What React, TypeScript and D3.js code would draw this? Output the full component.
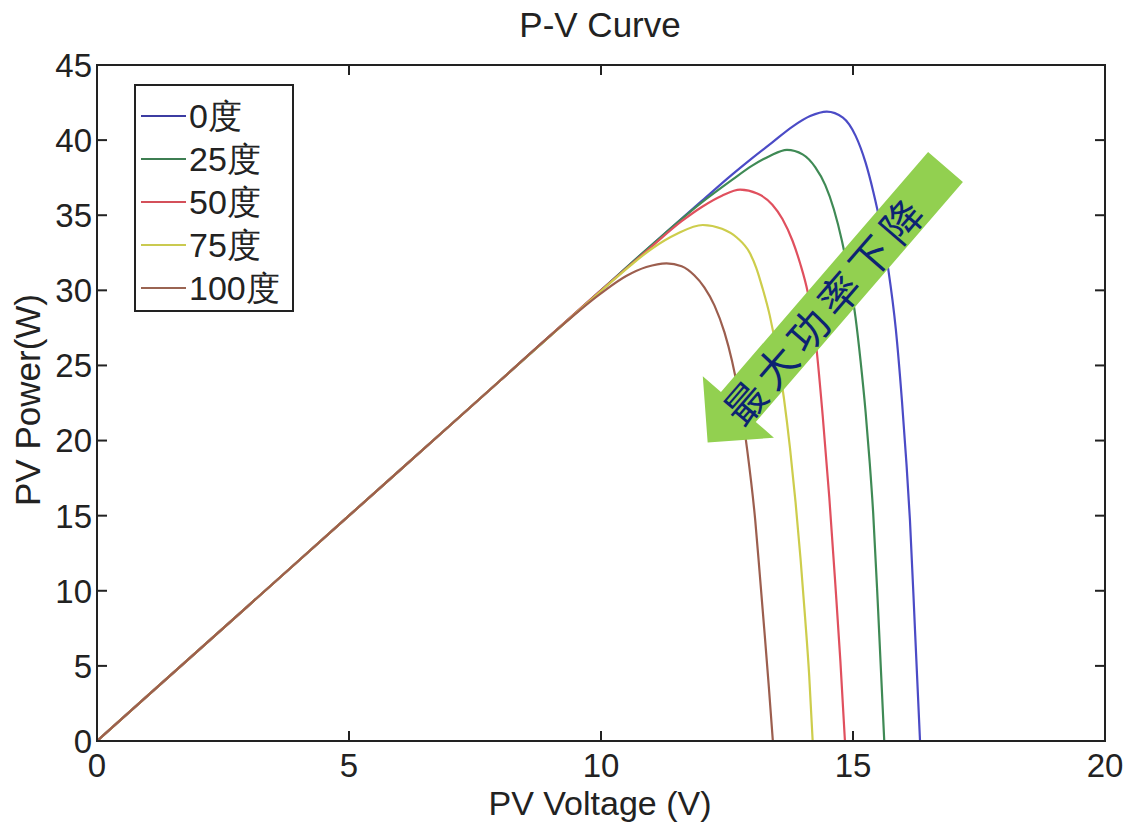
import React from "react";
import * as d3 from "d3";

// P-V characteristic of a PV module at several cell temperatures
const seriesNames = ["0度", "25度", "50度", "75度", "100度"];
const seriesColors = ["#4b4bc6", "#3f8a55", "#e0505e", "#cdcd4c", "#9c5e4e"];
const legendColors = ["#3c3ca2", "#3e7e52", "#d4505a", "#caca50", "#9a6452"];

const voltage0 = [0, 2, 4, 6, 8, 10, 11, 12, 12.6, 13.0, 13.4, 13.8, 14.15, 14.48, 14.8, 15.05, 15.25, 15.4, 15.55, 15.7, 15.85, 15.97, 16.06, 16.13, 16.23, 16.33];
const power0 = [0, 6.0, 12.0, 18.0, 24.0, 30.0, 33.0, 35.95, 37.7, 38.8, 39.85, 40.9, 41.6, 41.9, 41.5, 40.3, 38.5, 36.6, 34.3, 31.4, 27.4, 22.7, 18.5, 14.7, 7.4, 0];

const voltage25 = [0, 2, 4, 6, 8, 10, 11, 12, 12.6, 13.0, 13.35, 13.69, 14.0, 14.25, 14.45, 14.62, 14.78, 14.92, 15.05, 15.15, 15.25, 15.33, 15.4, 15.5, 15.62];
const power25 = [0, 6.0, 12.0, 18.0, 24.0, 30.0, 33.0, 35.85, 37.35, 38.3, 38.95, 39.35, 39.05, 38.2, 37.0, 35.4, 33.3, 30.9, 28.2, 25.3, 21.9, 18.6, 15.2, 8.6, 0];

const voltage50 = [0, 2, 4, 6, 8, 10, 11, 11.6, 12.0, 12.4, 12.76, 13.1, 13.4, 13.6, 13.8, 13.95, 14.1, 14.25, 14.4, 14.53, 14.65, 14.75, 14.84];
const power50 = [0, 6.0, 12.0, 18.0, 24.0, 30.0, 32.9, 34.6, 35.55, 36.3, 36.7, 36.45, 35.7, 34.75, 33.3, 31.8, 29.9, 26.9, 21.6, 16.2, 10.4, 5.3, 0];

const voltage75 = [0, 2, 4, 6, 8, 10, 10.6, 11.0, 11.5, 12.02, 12.4, 12.7, 12.95, 13.08, 13.2, 13.35, 13.5, 13.63, 13.75, 13.86, 13.96, 14.05, 14.13, 14.2];
const power75 = [0, 6.0, 12.0, 18.0, 24.0, 29.95, 31.7, 32.75, 33.75, 34.35, 34.1, 33.5, 32.5, 31.5, 30.2, 28.3, 25.7, 22.8, 19.5, 15.9, 12.1, 8.2, 4.4, 0];

const voltage100 = [0, 2, 4, 6, 8, 9, 10, 10.5, 10.9, 11.3, 11.6, 11.85, 12.05, 12.25, 12.45, 12.6, 12.75, 12.9, 13.06, 13.15, 13.25, 13.33, 13.41];
const power100 = [0, 6.0, 12.0, 18.0, 24.0, 27.0, 29.8, 30.95, 31.55, 31.8, 31.6, 31.0, 30.2, 29.0, 27.2, 25.3, 22.8, 19.4, 14.7, 11.1, 7.0, 3.6, 0];

const voltageSeries = [voltage0, voltage25, voltage50, voltage75, voltage100];
const powerSeries = [power0, power25, power50, power75, power100];

const xTicks = [0, 5, 10, 15, 20];
const yTicks = [0, 5, 10, 15, 20, 25, 30, 35, 40, 45];

const titleText = "P-V Curve";
const xLabel = "PV Voltage (V)";
const yLabel = "PV Power(W)";
const arrowText = "最大功率下降";

const W = 1129;
const H = 825;
const left = 97;
const right = 1105;
const top = 65;
const bottom = 741;

export default function App() {
  const x = d3.scaleLinear().domain([0, 20]).range([left, right]);
  const y = d3.scaleLinear().domain([0, 45]).range([bottom, top]);
  const line = d3
    .line<[number, number]>()
    .x((d) => x(d[0]))
    .y((d) => y(d[1]))
    .curve(d3.curveMonotoneX);

  const font = "'Liberation Sans', Arial, Helvetica, sans-serif";
  const axisColor = "#222";
  const tickLen = 10;

  // arrow geometry, in its own frame: tail centre at origin, pointing along +x
  const arrowTail = [945.5, 167];
  const arrowAngle = 130.8;
  const arrowLen = 364;
  const headLen = 47;
  const bodyHalf = 23;
  const headHalf = 47;
  const arrowPts = [
    [0, -bodyHalf],
    [arrowLen - headLen, -bodyHalf],
    [arrowLen - headLen, -headHalf],
    [arrowLen, 0],
    [arrowLen - headLen, headHalf],
    [arrowLen - headLen, bodyHalf],
    [0, bodyHalf],
  ];

  const legendX = 135;
  const legendY = 85;
  const legendW = 158;
  const legendH = 226;
  const rowY0 = 116;
  const rowStep = 43;

  return (
    <div style={{ position: "absolute", left: 0, top: 0 }}>
      <svg width={W} height={H} style={{ display: "block", background: "#fff" }}>
        <rect x={0} y={0} width={W} height={H} fill="#fff" />
        <defs>
          <clipPath id="plotClip">
            <rect x={left} y={top - 2} width={right - left} height={bottom - top + 2} />
          </clipPath>
        </defs>

        {/* title */}
        <text x={600} y={37} textAnchor="middle" fontFamily={font} fontSize={35} fill="#222">
          {titleText}
        </text>

        {/* curves */}
        <g clipPath="url(#plotClip)">
          {voltageSeries.map((vs, i) => (
            <path
              key={seriesNames[i]}
              d={line(vs.map((v, j) => [v, powerSeries[i][j]] as [number, number])) || ""}
              fill="none"
              stroke={seriesColors[i]}
              strokeWidth={2.2}
              strokeLinejoin="round"
            />
          ))}
        </g>

        {/* axes box */}
        <rect x={left} y={top} width={right - left} height={bottom - top} fill="none" stroke={axisColor} strokeWidth={2} />

        {/* x ticks */}
        {xTicks.map((t) => (
          <g key={"x" + t}>
            <line x1={x(t)} x2={x(t)} y1={bottom} y2={bottom - tickLen} stroke={axisColor} strokeWidth={2} />
            <line x1={x(t)} x2={x(t)} y1={top} y2={top + tickLen} stroke={axisColor} strokeWidth={2} />
            <text x={x(t)} y={777} textAnchor="middle" fontFamily={font} fontSize={33} fill="#222">
              {t}
            </text>
          </g>
        ))}

        {/* y ticks */}
        {yTicks.map((t) => (
          <g key={"y" + t}>
            <line x1={left} x2={left + tickLen} y1={y(t)} y2={y(t)} stroke={axisColor} strokeWidth={2} />
            <line x1={right} x2={right - tickLen} y1={y(t)} y2={y(t)} stroke={axisColor} strokeWidth={2} />
            <text x={92} y={y(t)} dy="0.36em" textAnchor="end" fontFamily={font} fontSize={33} fill="#222">
              {t}
            </text>
          </g>
        ))}

        {/* axis labels */}
        <text x={600} y={815} textAnchor="middle" fontFamily={font} fontSize={34} fill="#222">
          {xLabel}
        </text>
        <text
          transform={`translate(40, 400) rotate(-90)`}
          textAnchor="middle"
          fontFamily={font}
          fontSize={35}
          fill="#222"
        >
          {yLabel}
        </text>

        {/* legend */}
        <rect x={legendX} y={legendY} width={legendW} height={legendH} fill="#fff" stroke={axisColor} strokeWidth={2} />
        {seriesNames.map((name, i) => (
          <g key={"lg" + name}>
            <line
              x1={141}
              x2={186}
              y1={rowY0 + i * rowStep}
              y2={rowY0 + i * rowStep}
              stroke={legendColors[i]}
              strokeWidth={2.2}
            />
            <text
              x={189}
              y={rowY0 + i * rowStep}
              dy="0.36em"
              fontFamily={font}
              fontSize={34}
              fill="#222"
            >
              {name}
            </text>
          </g>
        ))}

        {/* arrow annotation */}
        <g transform={`translate(${arrowTail[0]}, ${arrowTail[1]}) rotate(${arrowAngle})`}>
          <polygon points={arrowPts.map((p) => p.join(",")).join(" ")} fill="#92d050" />
          <text
            transform={`translate(186, 0) rotate(180)`}
            textAnchor="middle"
            dominantBaseline="central"
            fontFamily="'Noto Sans CJK SC', sans-serif"
            fontSize={41}
            letterSpacing={7}
            fill="#0c2372"
          >
            {arrowText}
          </text>
        </g>
      </svg>
    </div>
  );
}
